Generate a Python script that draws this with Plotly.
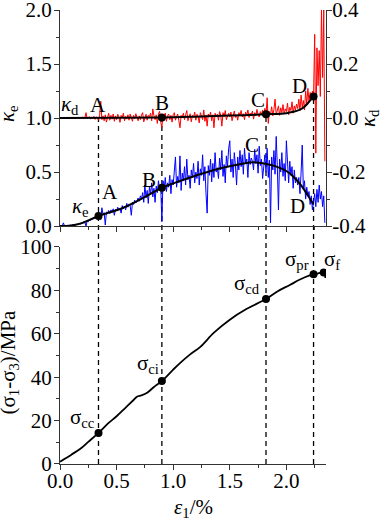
import plotly.graph_objects as go

# ---------------- data ----------------
strain = [
    0.00, 0.01, 0.02, 0.03, 0.04, 0.05, 0.06, 0.07, 0.08, 0.09,
    0.10, 0.11, 0.12, 0.13, 0.14, 0.15, 0.16, 0.17, 0.18, 0.19,
    0.20, 0.21, 0.22, 0.23, 0.24, 0.25, 0.26, 0.27, 0.28, 0.29,
    0.30, 0.31, 0.32, 0.33, 0.34, 0.35, 0.36, 0.37, 0.38, 0.39,
    0.40, 0.41, 0.42, 0.43, 0.44, 0.45, 0.46, 0.47, 0.48, 0.49,
    0.50, 0.51, 0.52, 0.53, 0.54, 0.55, 0.56, 0.57, 0.58, 0.59,
    0.60, 0.61, 0.62, 0.63, 0.64, 0.65, 0.66, 0.67, 0.68, 0.69,
    0.70, 0.71, 0.72, 0.73, 0.74, 0.75, 0.76, 0.77, 0.78, 0.79,
    0.80, 0.81, 0.82, 0.83, 0.84, 0.85, 0.86, 0.87, 0.88, 0.89,
    0.90, 0.91, 0.92, 0.93, 0.94, 0.95, 0.96, 0.97, 0.98, 0.99,
    1.00, 1.01, 1.02, 1.03, 1.04, 1.05, 1.06, 1.07, 1.08, 1.09,
    1.10, 1.11, 1.12, 1.13, 1.14, 1.15, 1.16, 1.17, 1.18, 1.19,
    1.20, 1.21, 1.22, 1.23, 1.24, 1.25, 1.26, 1.27, 1.28, 1.29,
    1.30, 1.31, 1.32, 1.33, 1.34, 1.35, 1.36, 1.37, 1.38, 1.39,
    1.40, 1.41, 1.42, 1.43, 1.44, 1.45, 1.46, 1.47, 1.48, 1.49,
    1.50, 1.51, 1.52, 1.53, 1.54, 1.55, 1.56, 1.57, 1.58, 1.59,
    1.60, 1.61, 1.62, 1.63, 1.64, 1.65, 1.66, 1.67, 1.68, 1.69,
    1.70, 1.71, 1.72, 1.73, 1.74, 1.75, 1.76, 1.77, 1.78, 1.79,
    1.80, 1.81, 1.82, 1.83, 1.84, 1.85, 1.86, 1.87, 1.88, 1.89,
    1.90, 1.91, 1.92, 1.93, 1.94, 1.95, 1.96, 1.97, 1.98, 1.99,
    2.00, 2.01, 2.02, 2.03, 2.04, 2.05, 2.06, 2.07, 2.08, 2.09,
    2.10, 2.11, 2.12, 2.13, 2.14, 2.15, 2.16, 2.17, 2.18, 2.19,
    2.20, 2.21, 2.22, 2.23, 2.24, 2.25, 2.26, 2.27, 2.28, 2.29,
    2.30, 2.31, 2.32, 2.33, 2.34,
]

ke_raw = [
    0.000, 0.002, 0.001, 0.030, 0.002, 0.006, 0.003, 0.008, 0.004, 0.010,
    0.006, 0.012, 0.008, 0.015, 0.010, 0.020, 0.014, 0.025, 0.018, 0.028,
    0.030, 0.042, 0.035, 0.000, 0.048, 0.040, 0.058, 0.052, 0.070, 0.062,
    0.080, 0.072, 0.090, 0.100, 0.085, 0.110, 0.060, 0.170, 0.105, 0.125,
    0.010, 0.130, 0.120, 0.145, 0.115, 0.150, 0.125, 0.160, 0.100, 0.155,
    0.140, 0.175, 0.150, 0.165, 0.120, 0.190, 0.160, 0.185, 0.150, 0.210,
    0.175, 0.205, 0.190, 0.100, 0.220, 0.200, 0.240, 0.215, 0.230, 0.260,
    0.230, 0.280, 0.250, 0.310, 0.220, 0.380, 0.260, 0.330, 0.210, 0.360,
    0.300, 0.400, 0.270, 0.350, 0.220, 0.370, 0.310, 0.420, 0.330, 0.360,
    0.040, 0.420, 0.340, 0.450, 0.320, 0.400, 0.360, 0.470, 0.300, 0.430,
    0.380, 0.500, 0.640, 0.360, 0.460, 0.400, 0.650, 0.330, 0.490, 0.420,
    0.550, 0.380, 0.620, 0.430, 0.470, 0.350, 0.520, 0.450, 0.580, 0.400,
    0.500, 0.440, 0.600, 0.380, 0.530, 0.470, 0.660, 0.420, 0.550, 0.300,
    0.120, 0.560, 0.470, 0.620, 0.410, 0.580, 0.450, 0.680, 0.500, 0.540,
    0.440, 0.630, 0.520, 0.700, 0.460, 0.570, 0.400, 0.650, 0.550, 0.720,
    0.790, 0.500, 0.620, 0.450, 0.680, 0.560, 0.380, 0.640, 0.520, 0.700,
    0.550, 0.660, 0.480, 0.720, 0.580, 0.620, 0.450, 0.680, 0.570, 0.630,
    0.600, 0.520, 0.710, 0.580, 0.660, 0.490, 0.740, 0.560, 0.620, 0.440,
    0.570, 0.660, 0.500, 0.720, 0.450, 0.610, 0.030, 0.640, 0.520, 0.700,
    0.480, 0.830, 0.550, 0.150, 0.620, 0.500, 0.680, 0.460, 0.580, 0.420,
    0.790, 0.520, 0.400, 0.600, 0.470, 0.550, 0.350, 0.520, 0.400, 0.450,
    0.380, 0.450, 0.300, 0.500, 0.750, 0.340, 0.420, 0.250, 0.360, 0.280,
    0.320, 0.200, 0.280, 0.150, 0.260, 0.300, 0.180, 0.340, 0.220, 0.380,
    0.250, 0.320, 0.180, 0.280, 0.030,
]

kd_raw = [
    0.000, 0.001, 0.000, -0.001, 0.001, 0.000, 0.002, -0.001, 0.001, 0.000,
    0.001, -0.001, 0.002, 0.000, -0.002, 0.001, 0.003, -0.001, 0.002, 0.000,
    0.004, -0.002, 0.001, 0.020, -0.003, 0.002, 0.005, -0.004, 0.003, 0.001,
    0.006, -0.005, 0.004, 0.002, -0.008, 0.010, 0.062, -0.006, 0.008, -0.010,
    0.012, -0.015, 0.006, 0.018, -0.008, 0.010, -0.004, 0.015, -0.012, 0.008,
    -0.006, 0.014, 0.004, -0.016, 0.010, 0.002, 0.018, -0.010, 0.006, -0.004,
    0.012, -0.008, 0.015, 0.003, -0.012, 0.010, -0.003, 0.016, 0.005, -0.010,
    0.008, -0.006, 0.012, 0.020, -0.014, 0.006, 0.014, -0.008, 0.010, 0.004,
    0.018, -0.010, 0.034, 0.008, -0.006, 0.012, -0.020, 0.016, 0.025, -0.015,
    -0.035, 0.012, 0.004, 0.018, -0.012, 0.008, 0.015, -0.006, 0.010, -0.015,
    0.012, 0.020, -0.008, 0.006, 0.015, -0.010, -0.036, 0.010, 0.004, 0.018,
    -0.006, 0.012, 0.028, -0.010, 0.008, 0.016, -0.014, 0.010, 0.004, 0.022,
    -0.008, 0.014, 0.006, -0.018, 0.020, 0.008, -0.006, 0.030, -0.012, 0.010,
    -0.030, 0.015, 0.004, 0.022, -0.010, 0.012, -0.036, 0.018, 0.006, 0.014,
    -0.008, 0.024, 0.010, -0.030, 0.020, 0.006, 0.028, -0.006, 0.012, 0.018,
    0.004, 0.022, -0.010, 0.016, 0.026, 0.002, 0.012, -0.008, 0.020, 0.010,
    0.028, 0.004, 0.016, -0.006, 0.022, 0.010, 0.030, 0.002, 0.018, 0.012,
    0.026, -0.004, 0.020, 0.008, 0.032, 0.012, 0.004, 0.024, 0.014, 0.030,
    0.006, 0.036, 0.012, 0.075, -0.020, 0.024, 0.014, 0.042, 0.008, 0.032,
    0.070, 0.012, 0.030, 0.045, 0.010, 0.038, 0.020, 0.050, 0.015, 0.034,
    0.024, 0.055, 0.012, 0.040, 0.028, 0.060, 0.018, 0.045, 0.030, 0.052,
    0.035, 0.070, 0.028, 0.085, 0.040, 0.065, 0.030, 0.100, 0.050, 0.110,
    0.060, 0.095, 0.070, 0.100, 0.080, 0.310, -0.130, 0.260, 0.120, 0.250,
    0.080, 0.400, 0.150, 0.400, -0.160,
]

ke_fit_strain = [0.0, 0.1, 0.2, 0.34, 0.45, 0.55, 0.65, 0.75, 0.9, 1.0, 1.15,
                 1.4, 1.6, 1.71, 1.82, 1.9, 2.0, 2.06, 2.12, 2.18, 2.24]
ke_fit = [0.0, 0.005, 0.03, 0.094, 0.13, 0.165, 0.215, 0.27, 0.355, 0.395, 0.45,
          0.53, 0.575, 0.59, 0.575, 0.555, 0.51, 0.46, 0.39, 0.30, 0.20]

kd_fit_strain = [0.0, 0.5, 0.9, 1.2, 1.5, 1.82, 2.0, 2.06, 2.12, 2.16, 2.2, 2.24]
kd_fit = [0.0, 0.001, 0.002, 0.005, 0.009, 0.014, 0.018, 0.023, 0.031, 0.042, 0.06, 0.08]

stress_strain = [0.0, 0.05, 0.1, 0.18, 0.25, 0.34, 0.42, 0.5, 0.58, 0.65, 0.68,
                 0.72, 0.77, 0.83, 0.9, 1.0, 1.06, 1.15, 1.24, 1.36, 1.5, 1.65,
                 1.82, 1.92, 2.03, 2.12, 2.2, 2.24, 2.28, 2.33, 2.345]
stress = [1.0, 2.6, 4.3, 7.0, 10.2, 14.3, 18.5, 22.0, 26.0, 29.5, 31.0,
          31.6, 32.8, 35.5, 38.2, 43.5, 46.5, 50.5, 54.0, 60.5, 66.5, 71.5,
          76.0, 79.5, 82.5, 85.0, 86.8, 87.4, 87.8, 88.2, 85.7]

point_names = ["A", "B", "C", "D"]
point_strain = [0.34, 0.90, 1.82, 2.24]
point_kd = [0.0, 0.002, 0.014, 0.08]
ke_dot_strain = [0.34, 0.90]
ke_dot = [0.094, 0.355]
kd_dot_strain = [0.90, 1.82, 2.24]
kd_dot = [0.002, 0.014, 0.08]

stress_names = ["σ<sub>cc</sub>", "σ<sub>ci</sub>", "σ<sub>cd</sub>", "σ<sub>pr</sub>", "σ<sub>f</sub>"]
stress_pt_strain = [0.34, 0.90, 1.82, 2.24, 2.33]
stress_pt = [14.3, 38.2, 76.0, 87.4, 88.2]

# label positions (data units) + small pixel nudges
kd_label_pos = [(0.34, 0.047), (0.90, 0.054), (1.75, 0.066), (2.12, 0.118)]
ke_label_pos = [(0.445, 0.32), (0.79, 0.43), (1.70, 0.75), (2.10, 0.19)]
stress_label_pos = [(0.20, 21.0), (0.78, 46.0), (1.65, 83.0), (2.09, 94.0), (2.33, 94.0)]
stress_label_xshift = [0, 0, 0, 0, 8]

x_ticks = [0.0, 0.5, 1.0, 1.5, 2.0]
x_ticktext = ["0.0", "0.5", "1.0", "1.5", "2.0"]
ke_ticks = [0.0, 0.5, 1.0, 1.5, 2.0]
ke_ticktext = ["0.0", "0.5", "1.0", "1.5", "2.0"]
kd_ticks = [-0.4, -0.2, 0.0, 0.2, 0.4]
kd_ticktext = ["-0.4", "-0.2", "0.0", "0.2", "0.4"]
s_ticks = [0, 20, 40, 60, 80, 100]
s_ticktext = ["0", "20", "40", "60", "80", "100"]

# ---------------- figure ----------------
FONT = "Liberation Serif"
FS = 21
AX = "#333333"
W, H = 381, 519
ML, MR, MT, MB = 60, 55, 10, 55
top_dom = [0.524, 1.0]
bot_dom = [0.0, 0.478]

fig = go.Figure()

fig.add_trace(go.Scatter(x=strain, y=ke_raw, xaxis="x2", yaxis="y2", mode="lines",
                         line=dict(color="#0000ff", width=1), showlegend=False))
fig.add_trace(go.Scatter(x=strain, y=kd_raw, xaxis="x2", yaxis="y3", mode="lines",
                         line=dict(color="#ff0000", width=1), showlegend=False))
fig.add_trace(go.Scatter(x=ke_fit_strain, y=ke_fit, xaxis="x2", yaxis="y2", mode="lines",
                         line=dict(color="black", width=2, shape="spline"), showlegend=False))
fig.add_trace(go.Scatter(x=kd_fit_strain, y=kd_fit, xaxis="x2", yaxis="y3", mode="lines",
                         line=dict(color="black", width=2, shape="spline"), showlegend=False))
fig.add_trace(go.Scatter(x=ke_dot_strain, y=ke_dot, xaxis="x2", yaxis="y2", mode="markers",
                         marker=dict(color="black", size=8), showlegend=False))
fig.add_trace(go.Scatter(x=kd_dot_strain, y=kd_dot, xaxis="x2", yaxis="y3", mode="markers",
                         marker=dict(color="black", size=8), showlegend=False))
fig.add_trace(go.Scatter(x=stress_strain, y=stress, xaxis="x", yaxis="y", mode="lines",
                         line=dict(color="black", width=1.8, shape="spline"), showlegend=False))
fig.add_trace(go.Scatter(x=stress_pt_strain, y=stress_pt, xaxis="x", yaxis="y", mode="markers",
                         marker=dict(color="black", size=8), showlegend=False))

# dashed vertical guides (from kd curve down to bottom axis)
for xs, kv in zip(point_strain, point_kd):
    ytop = top_dom[0] + (kv + 0.4) / 0.8 * (top_dom[1] - top_dom[0])
    fig.add_shape(type="line", xref="x", yref="paper", x0=xs, x1=xs, y0=0, y1=ytop,
                  line=dict(color="black", width=1.3, dash="5px,4px"), layer="below")

tf = dict(family=FONT, size=FS, color="black")
ann = []
for name, (xx, yy) in zip(point_names, kd_label_pos):
    ann.append(dict(x=xx, y=yy, xref="x2", yref="y3", text=name, showarrow=False, font=tf))
for name, (xx, yy) in zip(point_names, ke_label_pos):
    ann.append(dict(x=xx, y=yy, xref="x2", yref="y2", text=name, showarrow=False, font=tf))
ann.append(dict(x=0.09, y=0.05, xref="x2", yref="y3", text="<i>κ</i><sub>d</sub>",
                showarrow=False, font=tf))
ann.append(dict(x=0.18, y=0.175, xref="x2", yref="y2", text="<i>κ</i><sub>e</sub>",
                showarrow=False, font=tf))
for name, (xx, yy), xs in zip(stress_names, stress_label_pos, stress_label_xshift):
    ann.append(dict(x=xx, y=yy, xref="x", yref="y", text=name, showarrow=False, font=tf,
                    xshift=xs))
# axis titles
ann.append(dict(x=0, y=(top_dom[0] + top_dom[1]) / 2, xref="paper", yref="paper",
                text="<i>κ</i><sub>e</sub>", textangle=-90, showarrow=False, font=tf,
                xanchor="center", yanchor="middle", xshift=-52, yshift=4))
ann.append(dict(x=1, y=(top_dom[0] + top_dom[1]) / 2, xref="paper", yref="paper",
                text="<i>κ</i><sub>d</sub>", textangle=-90, showarrow=False, font=tf,
                xanchor="center", yanchor="middle", xshift=43))
ann.append(dict(x=0, y=(bot_dom[0] + bot_dom[1]) / 2, xref="paper", yref="paper",
                text="(σ<sub>1</sub>-σ<sub>3</sub>)/MPa", textangle=-90, showarrow=False,
                font=tf, xanchor="center", yanchor="middle", xshift=-51, yshift=-7))
ann.append(dict(x=0.5, y=0, xref="paper", yref="paper",
                text="<i>ε</i><sub>1</sub>/%", showarrow=False, font=tf,
                xanchor="center", yanchor="middle", yshift=-44))

common_x = dict(range=[0, 2.35], showline=True, linecolor=AX, linewidth=1.2,
                ticks="outside", ticklen=5, tickcolor=AX, tickwidth=1.2,
                showgrid=False, zeroline=False, automargin=False,
                ticklabeloverflow="allow",
                minor=dict(ticks="outside", ticklen=3, dtick=0.25, tick0=0, tickcolor=AX))
common_y = dict(showline=True, linecolor=AX, linewidth=1.2, ticks="outside", ticklen=5,
                tickcolor=AX, tickwidth=1.2, showgrid=False, zeroline=False,
                automargin=False, tickfont=tf, ticklabeloverflow="allow")

fig.update_layout(
    template="none",
    width=W, height=H, margin=dict(l=ML, r=MR, t=MT, b=MB, autoexpand=False),
    paper_bgcolor="white", plot_bgcolor="white",
    font=dict(family=FONT, size=FS, color="black"),
    xaxis=dict(domain=[0, 1], anchor="y", tickvals=x_ticks, ticktext=x_ticktext,
               tickfont=tf, ticklabelstandoff=-7, **common_x),
    xaxis2=dict(domain=[0, 1], anchor="y2", matches="x", tickvals=x_ticks,
                showticklabels=False, **common_x),
    yaxis=dict(domain=bot_dom, anchor="x", range=[0, 100], tickvals=s_ticks,
               ticktext=s_ticktext, ticklabelstandoff=-2,
               minor=dict(ticks="outside", ticklen=3, dtick=10, tick0=0, tickcolor=AX),
               **common_y),
    yaxis2=dict(domain=top_dom, anchor="x2", range=[0, 2], tickvals=ke_ticks,
                ticktext=ke_ticktext, ticklabelstandoff=-2,
                minor=dict(ticks="outside", ticklen=3, dtick=0.25, tick0=0, tickcolor=AX),
                **common_y),
    yaxis3=dict(overlaying="y2", side="right", anchor="x2", range=[-0.4, 0.4],
                tickvals=kd_ticks, ticktext=kd_ticktext, ticklabelstandoff=-4,
                minor=dict(ticks="outside", ticklen=3, dtick=0.1, tick0=0, tickcolor=AX),
                **common_y),
    annotations=ann,
)

fig.write_html("out.html", config={"displayModeBar": False},
               post_script="document.body.style.margin='0';document.body.style.overflow='hidden';")
